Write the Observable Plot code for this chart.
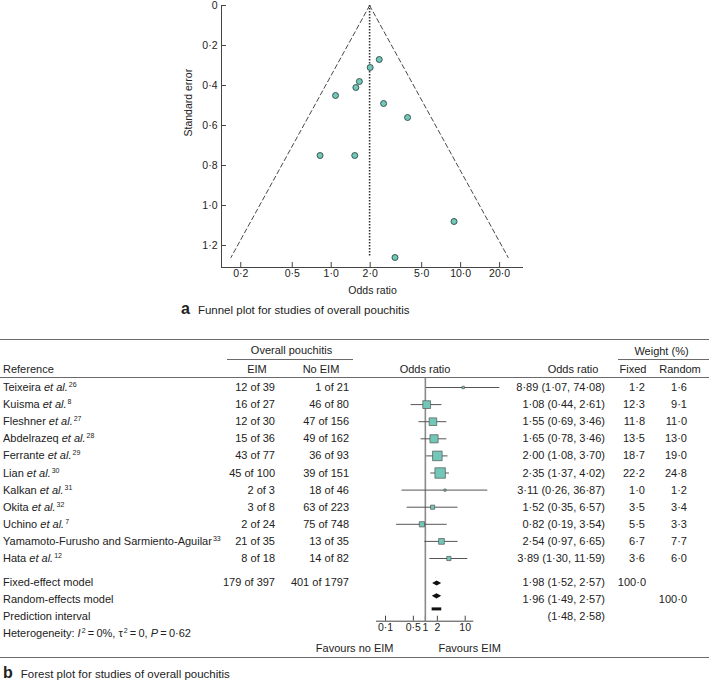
<!DOCTYPE html>
<html>
<head>
<meta charset="utf-8">
<script src="https://cdn.jsdelivr.net/npm/d3@7"></script>
<script src="https://cdn.jsdelivr.net/npm/@observablehq/plot@0.6"></script>
<style>
  body { margin: 0; background: #fff; }
  #fig { position: relative; width: 709px; height: 682px; overflow: hidden;
         font-family: "Liberation Sans", Arial, Helvetica, sans-serif; color: #222; }
  .t { position: absolute; white-space: nowrap; font-size: 11px; line-height: 14px; }
  .r { text-align: right; }
  .c { text-align: center; }
  .hl { position: absolute; height: 0; border-top: 1.4px solid #6a6a6a; }
  .t sup { font-size: 7px; vertical-align: 0; position: relative; top: -4px; margin-left: 1px; }
  .cap { position: absolute; white-space: nowrap; font-size: 11.5px; line-height: 14px; }
  .cap b { font-size: 16px; margin-right: 8px; font-weight: bold; }
  .plotbox { position: absolute; }
</style>
</head>
<body>
<div id="fig"></div>
<script>
// ---------------- data ----------------
const studyNames = ["Teixeira", "Kuisma", "Fleshner", "Abdelrazeq", "Ferrante", "Lian", "Kalkan", "Okita", "Uchino", "Yamamoto-Furusho and Sarmiento-Aguilar", "Hata"];
const studyEtAl = [true, true, true, true, true, true, true, true, true, false, true];
const studyRefs = [26, 8, 27, 28, 29, 30, 31, 32, 7, 33, 12];
const eimEvents = [12, 16, 12, 15, 43, 45, 2, 3, 2, 21, 8];
const eimTotal = [39, 27, 30, 36, 77, 100, 3, 8, 24, 35, 18];
const noEimEvents = [1, 46, 47, 49, 36, 39, 18, 63, 75, 13, 14];
const noEimTotal = [21, 80, 156, 162, 93, 151, 46, 223, 748, 35, 82];
const oddsRatio = [8.89, 1.08, 1.55, 1.65, 2.00, 2.35, 3.11, 1.52, 0.82, 2.54, 3.89];
const ciLower = [1.07, 0.44, 0.69, 0.78, 1.08, 1.37, 0.26, 0.35, 0.19, 0.97, 1.30];
const ciUpper = [74.08, 2.61, 3.46, 3.46, 3.70, 4.02, 36.87, 6.57, 3.54, 6.65, 11.59];
const weightFixed = [1.2, 12.3, 11.8, 13.5, 18.7, 22.2, 1.0, 3.5, 5.5, 6.7, 3.6];
const weightRandom = [1.6, 9.1, 11.0, 13.0, 19.0, 24.8, 1.2, 3.4, 3.3, 7.7, 6.0];
const standardError = [1.08, 0.45, 0.41, 0.38, 0.31, 0.27, 1.26, 0.75, 0.75, 0.49, 0.56];

const summaryLabels = ["Fixed-effect model", "Random-effects model", "Prediction interval"];
const summaryOR = [1.98, 1.96, null];
const summaryLower = [1.52, 1.49, 1.48];
const summaryUpper = [2.57, 2.57, 2.58];
const summaryWeightFixed = [100.0, null, null];
const summaryWeightRandom = [null, 100.0, null];
const totalEimEvents = [179, 397];
const totalNoEimEvents = [401, 1797];
const heterogeneity = {i2: 0, tau2: 0, p: 0.62};

const funnelXTicks = [0.2, 0.5, 1, 2, 5, 10, 20];
const funnelYTicks = [0, 0.2, 0.4, 0.6, 0.8, 1.0, 1.2];
const funnelCentre = [1.98];
const funnelLeftEdge = [[1.98, 0], [0.168, 1.26]];
const funnelRightEdge = [[1.98, 0], [23.3, 1.26]];
const forestTicks = [0.1, 0.5, 1, 2, 10];

// ---------------- helpers ----------------
const FONT = '"Liberation Sans", Arial, Helvetica, sans-serif';
const TEAL = "#72c7b9";
const fmt = (v, d = 2) => v.toFixed(d).replace(".", "\u00b7");
const fig = document.getElementById("fig");
function put(html, x, y, align = "l", extra = "") {
  const d = document.createElement("div");
  d.className = "t" + (align === "r" ? " r" : align === "c" ? " c" : "");
  d.innerHTML = html;
  d.style.top = (y - 7) + "px";
  if (align === "r") d.style.right = (709 - x) + "px";
  else if (align === "c") { d.style.left = (x - 150) + "px"; d.style.width = "300px"; }
  else d.style.left = x + "px";
  if (extra) d.style.cssText += extra;
  fig.appendChild(d);
  return d;
}
function hline(x1, x2, y) {
  const d = document.createElement("div");
  d.className = "hl";
  d.style.left = x1 + "px"; d.style.width = (x2 - x1) + "px"; d.style.top = (y - 0.7) + "px";
  fig.appendChild(d);
}

const studies = studyNames.map((name, i) => ({
  i, name, or: oddsRatio[i], lo: ciLower[i], hi: ciUpper[i], se: standardError[i],
  wf: weightFixed[i], wr: weightRandom[i]
}));

// ---------------- (a) funnel plot ----------------
const fx = [0.142, 30.6], fy = [0, 1.31];
const funnel = Plot.plot({
  width: 709, height: 300,
  marginLeft: 221, marginRight: 186, marginTop: 5, marginBottom: 33,
  x: {type: "log", domain: fx, label: null, axis: null},
  y: {domain: fy, reverse: true, label: null, axis: null},
  style: {fontFamily: FONT, fontSize: "10.5px", color: "#222", background: "transparent", overflow: "visible"},
  marks: [
    Plot.ruleX([fx[0]], {x: d => d, stroke: "#444", strokeWidth: 1}),
    Plot.ruleY([fy[1]], {y: d => d, stroke: "#444", strokeWidth: 1}),
    Plot.ruleY(funnelYTicks, {y: d => d, x1: () => fx[0], x2: () => fx[0], insetRight: -5, stroke: "#444"}),
    Plot.ruleX(funnelXTicks, {x: d => d, y1: () => fy[1], y2: () => fy[1], insetTop: -5, stroke: "#444"}),
    Plot.text(funnelXTicks, {x: d => d, frameAnchor: "bottom", dy: 9.5, text: d => fmt(d, 1), fontSize: 10.5, fill: "#222"}),
    Plot.text(funnelYTicks, {y: d => d, frameAnchor: "left", dx: -4, textAnchor: "end", text: d => d === 0 ? "0" : fmt(d, 1), fontSize: 10.5, fill: "#222"}),
    Plot.text(["Odds ratio"], {frameAnchor: "bottom", dy: 26, fontSize: 10.5, fill: "#222"}),
    Plot.text(["Standard error"], {frameAnchor: "left", dx: -33, rotate: -90, fontSize: 10.5, fill: "#222"}),
    Plot.line(funnelLeftEdge, {x: d => d[0], y: d => d[1], stroke: "#333", strokeWidth: 0.9, strokeDasharray: "4.5,3"}),
    Plot.line(funnelRightEdge, {x: d => d[0], y: d => d[1], stroke: "#333", strokeWidth: 0.9, strokeDasharray: "4.5,3"}),
    Plot.ruleX(funnelCentre, {x: d => d, y1: () => 0, y2: () => funnelLeftEdge[1][1], stroke: "#333", strokeWidth: 1.6, strokeDasharray: "1.6,1.4"}),
    Plot.dot(studies, {x: "or", y: "se", r: 3, fill: TEAL, stroke: "#2e4a45", strokeWidth: 0.9})
  ]
});
const fbox = document.createElement("div");
fbox.className = "plotbox"; fbox.style.left = "0px"; fbox.style.top = "0px";
fbox.appendChild(funnel);
fig.appendChild(fbox);

const capA = document.createElement("div");
capA.className = "cap"; capA.style.left = "181px"; capA.style.top = "302px";
capA.innerHTML = "<b>a</b>Funnel plot for studies of overall pouchitis";
fig.appendChild(capA);

// ---------------- (b) forest plot table ----------------
const rowPx0 = 387, rowStep = 17.1;
const rowY = i => rowPx0 + rowStep * i;
const summaryTextY = [582, 598.5, 615.5];
const heteroY = 632.5;

hline(0, 709, 340);
put("Overall pouchitis", 291.5, 350, "c");
hline(227, 353, 360);
put("Weight (%)", 661.5, 350.5, "c");
hline(618, 709, 359.5);
put("Reference", 3, 369.3);
put("EIM", 257, 369.3, "c");
put("No EIM", 321, 369.3, "c");
put("Odds ratio", 425, 369.3, "c");
put("Odds ratio", 573, 369.3, "c");
put("Fixed", 633, 369.3, "c");
put("Random", 680, 369.3, "c");
hline(0, 709, 377.7);

studies.forEach(s => {
  const y = rowY(s.i);
  put(`${s.name}${studyEtAl[s.i] ? " <i>et al.</i>" : ""}<sup>${studyRefs[s.i]}</sup>`, 3, y);
  put(`${eimEvents[s.i]} of ${eimTotal[s.i]}`, 275, y, "r");
  put(`${noEimEvents[s.i]} of ${noEimTotal[s.i]}`, 349, y, "r");
  put(`${fmt(s.or)} (${fmt(s.lo)}, ${fmt(s.hi)})`, 605, y, "r");
  put(fmt(s.wf, 1), 645, y, "r");
  put(fmt(s.wr, 1), 687, y, "r");
});

summaryLabels.forEach((lab, k) => {
  const y = summaryTextY[k];
  put(lab, 3, y);
  const est = summaryOR[k] == null ? "" : fmt(summaryOR[k]) + " ";
  put(`${est}(${fmt(summaryLower[k])}, ${fmt(summaryUpper[k])})`, 605, y, "r");
  if (summaryWeightFixed[k] != null) put(fmt(summaryWeightFixed[k], 1), 646, y, "r");
  if (summaryWeightRandom[k] != null) put(fmt(summaryWeightRandom[k], 1), 687, y, "r");
});
put(`${totalEimEvents[0]} of ${totalEimEvents[1]}`, 275, summaryTextY[0], "r");
put(`${totalNoEimEvents[0]} of ${totalNoEimEvents[1]}`, 349, summaryTextY[0], "r");
put(`Heterogeneity: <i>I</i><sup>2</sup>\u2009=\u2009${heterogeneity.i2}%, \u03c4<sup>2</sup>\u2009=\u2009${heterogeneity.tau2}, <i>P</i>\u2009=\u2009${fmt(heterogeneity.p)}`, 3, heteroY);
put("Favours no EIM", 393.5, 648.3, "r");
put("Favours EIM", 438.5, 648.3);
hline(0, 709, 657.3);

const capB = document.createElement("div");
capB.className = "cap"; capB.style.left = "3px"; capB.style.top = "666px";
capB.innerHTML = "<b>b</b>Forest plot for studies of overall pouchitis";
fig.appendChild(capB);

// forest graphic
const forestLeft = 340, forestTop = 370;
const rowOf = px => (px - rowPx0) / rowStep;          // page pixel -> row units
const graphicRows = [rowOf(583), rowOf(595.8), rowOf(608.4)];
const axisRow = rowOf(620.7), topRow = rowOf(377.7);
const diamondHalf = rowOf(rowPx0 + 2.6);
const diamonds = [0, 1].flatMap(k => {
  const y = graphicRows[k];
  return [
    {m: k, x: summaryLower[k], lo: y, hi: y},
    {m: k, x: summaryOR[k], lo: y - diamondHalf, hi: y + diamondHalf},
    {m: k, x: summaryUpper[k], lo: y, hi: y}
  ];
});
const forest = Plot.plot({
  width: 180, height: 290,
  marginLeft: 36, marginRight: 46.7, marginTop: 0, marginBottom: 39.3,
  x: {type: "log", domain: [0.1, 10], range: [385 - forestLeft, 464.7 - forestLeft], label: null, axis: null},
  y: {domain: [0, 10], range: [rowY(0) - forestTop, rowY(10) - forestTop], label: null, axis: null},
  r: {type: "sqrt", domain: [0, 22.2], range: [0, 5.9]},
  style: {fontFamily: FONT, fontSize: "10px", color: "#222", background: "transparent", overflow: "visible"},
  marks: [
    Plot.ruleY([axisRow], {y: d => d, stroke: "#444", strokeWidth: 1}),
    Plot.ruleX(forestTicks, {x: d => d, y1: () => axisRow, y2: () => axisRow, insetTop: -5, stroke: "#444"}),
    Plot.text(forestTicks, {x: d => d, frameAnchor: "bottom", dy: 9.5, text: d => String(d).replace(".", "\u00b7"), fontSize: 10.5, fill: "#222"}),
    Plot.ruleX([1], {x: d => d, y1: () => topRow, y2: () => axisRow, stroke: "#8a8a8a", strokeWidth: 1.6}),
    Plot.ruleY(studies, {y: "i", x1: "lo", x2: "hi", stroke: "#555", strokeWidth: 1}),
    Plot.dot(studies, {x: "or", y: "i", r: "wf", symbol: "square", fill: TEAL, stroke: "#555", strokeWidth: 0.7}),
    Plot.area(diamonds, {x1: "x", y1: "lo", y2: "hi", z: "m", fill: "#111"}),
    Plot.ruleY([2], {y: k => graphicRows[k], x1: k => summaryLower[k], x2: k => summaryUpper[k], stroke: "#111", strokeWidth: 3})
  ]
});
const gbox = document.createElement("div");
gbox.className = "plotbox"; gbox.style.left = forestLeft + "px"; gbox.style.top = forestTop + "px";
gbox.appendChild(forest);
fig.appendChild(gbox);
</script>
</body>
</html>
